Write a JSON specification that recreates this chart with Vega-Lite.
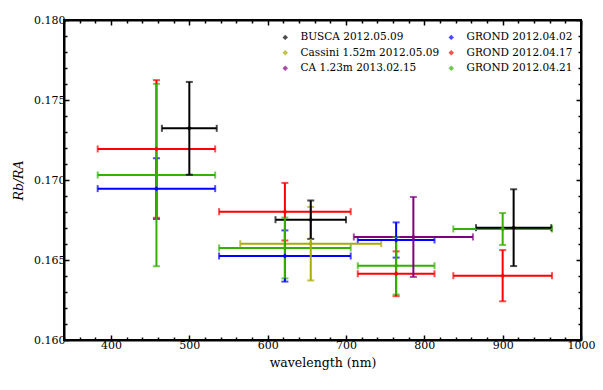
{
  "$schema": "https://vega.github.io/schema/vega-lite/v6.json",
  "width": 517,
  "height": 320,
  "autosize": {"type": "none"},
  "padding": {"left": 64, "top": 20, "right": 22, "bottom": 50},
  "background": "white",
  "config": {
    "font": "DejaVu Serif",
    "view": {"stroke": "black", "strokeWidth": 2},
    "axis": {
      "labelFont": "DejaVu Serif",
      "labelFontSize": 11,
      "labelColor": "black",
      "titleFont": "DejaVu Serif",
      "titleFontSize": 12.5,
      "titleFontWeight": "normal",
      "titleColor": "black",
      "tickColor": "black",
      "tickWidth": 1.5,
      "domainColor": "black",
      "domainWidth": 2,
      "grid": false
    },
    "legend": {
      "labelFont": "DejaVu Serif",
      "labelFontSize": 10.5,
      "labelColor": "black"
    }
  },
  "data": {
    "values": [
      {"inst": "GROND 2012.04.02", "wl": 458, "dwl": 75, "r": 0.16946, "dr": 0.0019},
      {"inst": "GROND 2012.04.02", "wl": 622, "dwl": 84, "r": 0.16525, "dr": 0.0016},
      {"inst": "GROND 2012.04.02", "wl": 764, "dwl": 49, "r": 0.16625, "dr": 0.0011},
      {"inst": "GROND 2012.04.17", "wl": 458, "dwl": 75, "r": 0.17194, "dr": 0.0043},
      {"inst": "GROND 2012.04.17", "wl": 622, "dwl": 84, "r": 0.16802, "dr": 0.0018},
      {"inst": "GROND 2012.04.17", "wl": 764, "dwl": 49, "r": 0.16414, "dr": 0.0014},
      {"inst": "GROND 2012.04.17", "wl": 900, "dwl": 63, "r": 0.16402, "dr": 0.0016},
      {"inst": "GROND 2012.04.21", "wl": 458, "dwl": 75, "r": 0.17031, "dr": 0.0057},
      {"inst": "GROND 2012.04.21", "wl": 622, "dwl": 84, "r": 0.16575, "dr": 0.0019},
      {"inst": "GROND 2012.04.21", "wl": 764, "dwl": 49, "r": 0.16464, "dr": 0.0018},
      {"inst": "GROND 2012.04.21", "wl": 900, "dwl": 63, "r": 0.16694, "dr": 0.0010},
      {"inst": "Cassini 1.52m  2012.05.09", "wl": 655, "dwl": 90, "r": 0.16602, "dr": 0.0023},
      {"inst": "CA 1.23m  2013.02.15", "wl": 786, "dwl": 76, "r": 0.16644, "dr": 0.0025},
      {"inst": "BUSCA 2012.05.09", "wl": 500, "dwl": 35, "r": 0.17323, "dr": 0.0029},
      {"inst": "BUSCA 2012.05.09", "wl": 655, "dwl": 45, "r": 0.16752, "dr": 0.0012},
      {"inst": "BUSCA 2012.05.09", "wl": 914, "dwl": 48, "r": 0.16702, "dr": 0.0024}
    ]
  },
  "layer": [
    {
      "mark": {"type": "errorbar", "thickness": 2, "ticks": {"size": 7, "thickness": 2}},
      "encoding": {
        "x": {"field": "wl", "type": "quantitative", "scale": {"domain": [340, 1000], "nice": false, "zero": false}, "axis": null},
        "xError": {"field": "dwl"},
        "y": {"field": "r", "type": "quantitative", "scale": {"domain": [0.16, 0.18], "nice": false, "zero": false}, "axis": null},
        "color": {"field": "inst", "type": "nominal",
          "scale": {"domain": ["BUSCA 2012.05.09", "Cassini 1.52m  2012.05.09", "CA 1.23m  2013.02.15", "GROND 2012.04.02", "GROND 2012.04.17", "GROND 2012.04.21"],
                    "range": ["#000000", "#aaaa00", "#800080", "#0000ff", "#ff0000", "#33b000"]},
          "legend": {"title": null, "orient": "none", "legendX": 216, "legendY": 12, "columns": 2, "columnPadding": 3, "rowPadding": 4.5, "symbolSize": 30, "symbolType": "diamond", "symbolStrokeWidth": 0, "labelOffset": 10, "padding": 0}}
      }
    },
    {
      "mark": {"type": "errorbar", "thickness": 2, "ticks": {"size": 7, "thickness": 2}},
      "encoding": {
        "x": {"field": "wl", "type": "quantitative", "axis": null},
        "y": {"field": "r", "type": "quantitative", "axis": null},
        "yError": {"field": "dr"},
        "color": {"field": "inst", "type": "nominal"}
      }
    },
    {
      "mark": {"type": "point", "shape": "diamond", "filled": true, "size": 25, "opacity": 1},
      "encoding": {
        "x": {"field": "wl", "type": "quantitative", "title": "wavelength (nm)",
          "axis": {"orient": "bottom", "format": "d",
            "values": [340,360,380,400,420,440,460,480,500,520,540,560,580,600,620,640,660,680,700,720,740,760,780,800,820,840,860,880,900,920,940,960,980,1000],
            "labelExpr": "datum.value % 100 === 0 ? datum.label : ''",
            "tickSize": {"condition": {"test": "datum.value % 100 === 0", "value": -5}, "value": -3},
            "labelPadding": 4, "titlePadding": 6, "labelFlush": false}},
        "y": {"field": "r", "type": "quantitative", "title": "Rb/RA",
          "axis": {"orient": "left",
            "values": [0.160,0.161,0.162,0.163,0.164,0.165,0.166,0.167,0.168,0.169,0.170,0.171,0.172,0.173,0.174,0.175,0.176,0.177,0.178,0.179,0.180],
            "format": ".3f",
            "labelExpr": "abs(round(datum.value*1000) % 5) === 0 ? datum.label : ''",
            "tickSize": {"condition": {"test": "abs(round(datum.value*1000) % 5) === 0", "value": -5}, "value": -3},
            "labelPadding": 4, "titlePadding": 8, "titleFontStyle": "italic", "labelFlush": false}},
        "color": {"field": "inst", "type": "nominal"}
      }
    },
    {
      "mark": {"type": "point", "opacity": 0},
      "encoding": {
        "x": {"field": "wl", "type": "quantitative",
          "axis": {"orient": "top", "title": null, "labels": false,
            "values": [340,360,380,400,420,440,460,480,500,520,540,560,580,600,620,640,660,680,700,720,740,760,780,800,820,840,860,880,900,920,940,960,980,1000],
            "tickSize": {"condition": {"test": "datum.value % 100 === 0", "value": -5}, "value": -3}}},
        "y": {"field": "r", "type": "quantitative",
          "axis": {"orient": "right", "title": null, "labels": false,
            "values": [0.160,0.161,0.162,0.163,0.164,0.165,0.166,0.167,0.168,0.169,0.170,0.171,0.172,0.173,0.174,0.175,0.176,0.177,0.178,0.179,0.180],
            "tickSize": {"condition": {"test": "abs(round(datum.value*1000) % 5) === 0", "value": -5}, "value": -3}}}
      }
    }
  ],
  "resolve": {"axis": {"x": "independent", "y": "independent"}}
}
